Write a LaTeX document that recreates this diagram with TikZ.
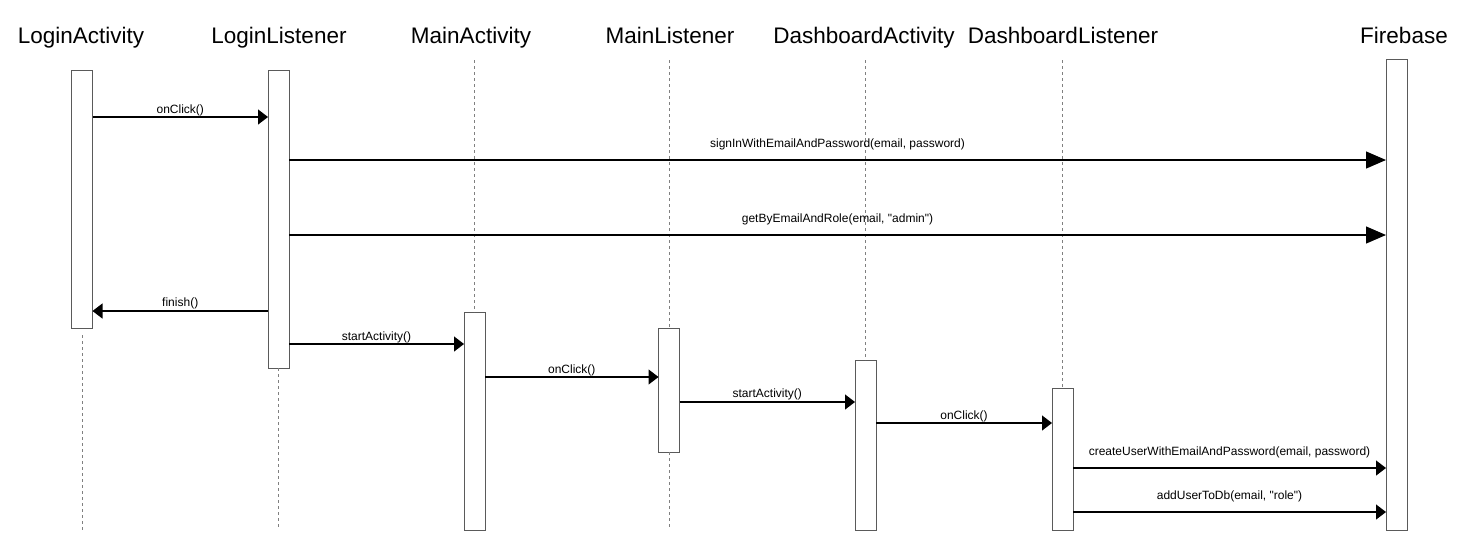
\documentclass[tikz,border=0pt]{standalone}
\usepackage{fontspec}
\setmainfont{Liberation Sans}[Ligatures=TeXOff]
\usetikzlibrary{arrows.meta}
\definecolor{boxgray}{HTML}{5A5A5A}
\definecolor{lifegray}{HTML}{808080}
\begin{document}
\begin{tikzpicture}[x=1pt,y=-1pt,
  act/.style={draw=boxgray, fill=white, line width=1pt, minimum width=21pt, inner sep=0pt, outer sep=0pt, anchor=north},
  title/.style={font=\fontsize{22.5}{27}\selectfont, anchor=base, inner sep=0pt},
  life/.style={draw=lifegray, line width=0.9pt, dash pattern=on 3pt off 3pt},
  msg/.style={draw=black, line width=1.2pt, -{Triangle[length=10pt,width=15pt]}},
  longmsg/.style={draw=black, line width=1.2pt, -{Triangle[length=20pt,width=17pt]}},
  lbl/.style={font=\fontsize{12}{14}\selectfont, anchor=base, inner sep=0pt}]
\useasboundingbox (0,0) rectangle (1475,550);

% titles
\node[title] (tla) at (81,43.5) {LoginActivity};
\node[title] (tll) at (279,43.5) {LoginListener};
\node[title] (tma) at (471,43.5) {MainActivity};
\node[title] (tml) at (670,43.5) {MainListener};
\node[title] (tda) at (864,43.5) {DashboardActivity};
\node[title] (tdl) at (1063,43.5) {DashboardListener};
\node[title] (tfb) at (1404,43.5) {Firebase};

% lifeline end points
\coordinate (la-s) at (82,335);   \coordinate (la-e) at (82,530);
\coordinate (ll-e) at (278.5,528);
\coordinate (ma-s) at (474.5,60);
\coordinate (ml-s) at (669,60);   \coordinate (ml-e) at (669,528);
\coordinate (da-s) at (865.5,60);
\coordinate (dl-s) at (1062.5,60);

% activation boxes
\node[act, minimum height=258pt] (la) at (82,70) {};
\node[act, minimum height=298pt] (ll) at (278.5,70) {};
\node[act, minimum height=218pt] (ma) at (474.5,312) {};
\node[act, minimum height=124pt] (ml) at (669,328) {};
\node[act, minimum height=170pt] (da) at (865.5,360) {};
\node[act, minimum height=142pt] (dl) at (1062.5,388) {};
\node[act, minimum height=471pt] (fb) at (1396.5,59) {};

% lifelines
\draw[life] (la-s) -- (la-e);
\draw[life] (ll.south) -- (ll-e);
\draw[life] (ma-s) -- (ma.north);
\draw[life] (ml-s) -- (ml.north);
\draw[life] (ml.south) -- (ml-e);
\draw[life] (da-s) -- (da.north);
\draw[life] (dl-s) -- (dl.north);

% messages
\draw[msg] (la.east |- 0,117) -- node[lbl, yshift=3.5pt] {onClick()} (ll.west |- 0,117);
\draw[longmsg] (ll.east |- 0,160) -- node[lbl, yshift=12.5pt] {signInWithEmailAndPassword(email, password)} (fb.west |- 0,160);
\draw[longmsg] (ll.east |- 0,235) -- node[lbl, yshift=12.5pt] {getByEmailAndRole(email, "admin")} (fb.west |- 0,235);
\draw[msg] (ll.west |- 0,311) -- node[lbl, yshift=4.3pt] {finish()} (la.east |- 0,311);
\draw[msg] (ll.east |- 0,344) -- node[lbl, yshift=4pt] {startActivity()} (ma.west |- 0,344);
\draw[msg] (ma.east |- 0,377) -- node[lbl, yshift=4pt] {onClick()} (ml.west |- 0,377);
\draw[msg] (ml.east |- 0,402) -- node[lbl, yshift=5pt] {startActivity()} (da.west |- 0,402);
\draw[msg] (da.east |- 0,423) -- node[lbl, yshift=4pt] {onClick()} (dl.west |- 0,423);
\draw[msg] (dl.east |- 0,468) -- node[lbl, yshift=13pt] {createUserWithEmailAndPassword(email, password)} (fb.west |- 0,468);
\draw[msg] (dl.east |- 0,512) -- node[lbl, yshift=13pt] {addUserToDb(email, "role")} (fb.west |- 0,512);
\end{tikzpicture}
\end{document}
